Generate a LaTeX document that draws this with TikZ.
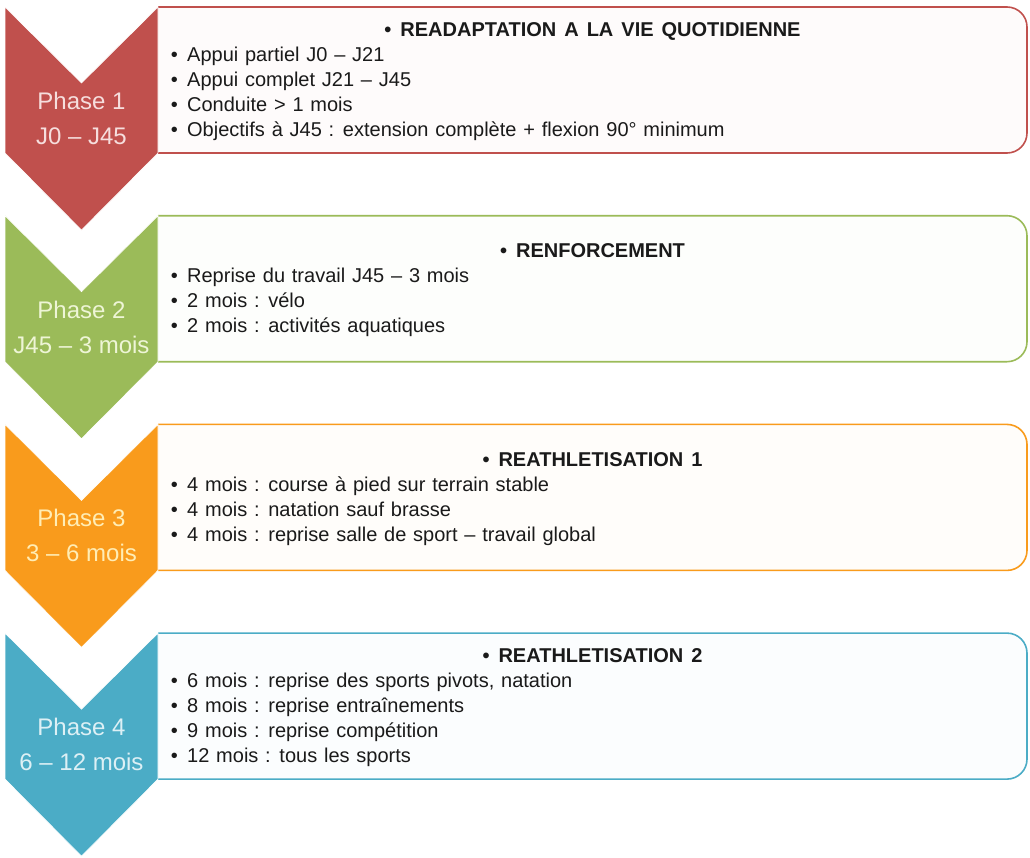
\documentclass[tikz,border=0pt]{standalone}
\usepackage{fontspec}
\setmainfont{Liberation Sans}

\definecolor{redA}{HTML}{C0504D}
\definecolor{greenA}{HTML}{9BBB59}
\definecolor{orangeA}{HTML}{F99B1C}
\definecolor{blueA}{HTML}{4BACC6}
\definecolor{redT}{HTML}{F6DEDD}
\definecolor{greenT}{HTML}{EEF5D6}
\definecolor{orangeT}{HTML}{FFEDB5}
\definecolor{blueT}{HTML}{DDF0F5}
\definecolor{ink}{HTML}{1A1A1A}

\newcommand{\bul}{\makebox[16.3pt][l]{\textbullet}}
\newcommand{\headfont}{\fontsize{20}{25}\selectfont\bfseries\spaceskip=8pt\relax}
\newcommand{\itemfont}{\fontsize{20}{25}\selectfont\spaceskip=6.8pt\relax}

\begin{document}
\begin{tikzpicture}[x=1pt, y=-1pt,
	card/.style = {line width=1.6pt, rounded corners=20pt},
	chev/.style = {draw=white, line width=0.6pt},
	phase/.style = {align=center, inner sep=0pt, font=\fontsize{24}{35}\selectfont},
	head/.style = {anchor=base, inner sep=0pt, text=ink, font=\headfont},
	item/.style = {anchor=base west, inner sep=0pt, text=ink, font=\itemfont}]
	\useasboundingbox (0,0) rectangle (1030,857);

	% boxes
	\draw[card, draw=redA, fill=redA!2] (158,7) -- (1027,7) -- (1027,153) -- (158,153);
	\draw[card, draw=greenA, fill=greenA!2] (158,215.7) -- (1027,215.7) -- (1027,361.7) -- (158,361.7);
	\draw[card, draw=orangeA, fill=orangeA!2] (158,424.4) -- (1027,424.4) -- (1027,570.4) -- (158,570.4);
	\draw[card, draw=blueA, fill=blueA!2] (158,633.1) -- (1027,633.1) -- (1027,779.1) -- (158,779.1);

	% chevrons
	\fill[chev, fill=redA] (5,7) -- (81.5,83) -- (158,7) -- (158,153) -- (81.5,230) -- (5,153) -- cycle;
	\fill[chev, fill=greenA] (5,215.7) -- (81.5,291.7) -- (158,215.7) -- (158,361.7) -- (81.5,438.7) -- (5,361.7) -- cycle;
	\fill[chev, fill=orangeA] (5,424.4) -- (81.5,500.4) -- (158,424.4) -- (158,570.4) -- (81.5,647.4) -- (5,570.4) -- cycle;
	\fill[chev, fill=blueA] (5,633.1) -- (81.5,709.1) -- (158,633.1) -- (158,779.1) -- (81.5,856.1) -- (5,779.1) -- cycle;

	\node[phase, text=redT] (p1) at (81.5,118.5) {Phase 1\\J0 -- J45};
	\node[phase, text=greenT] (p2) at (81.5,327.2) {Phase 2\\J45 -- 3 mois};
	\node[phase, text=orangeT] (p3) at (81.5,535.9) {Phase 3\\3 -- 6 mois};
	\node[phase, text=blueT] (p4) at (81.5,744.6) {Phase 4\\6 -- 12 mois};

	% phase 1
	\node[head] (h1) at (592.5,36.5) {\textbullet\hspace{9pt}READAPTATION A LA VIE QUOTIDIENNE};
	\node[item] (a1) at (170.7,61.5) {\bul Appui partiel J0 -- J21};
	\node[item] (a2) at (170.7,86.5) {\bul Appui complet J21 -- J45};
	\node[item] (a3) at (170.7,111.5) {\bul Conduite > 1 mois};
	\node[item] (a4) at (170.7,136.5) {\bul Objectifs à J45 : extension complète + flexion 90° minimum};

	% phase 2
	\node[head] (h2) at (592.5,257.7) {\textbullet\hspace{9pt}RENFORCEMENT};
	\node[item] (b1) at (170.7,282.7) {\bul Reprise du travail J45 -- 3 mois};
	\node[item] (b2) at (170.7,307.7) {\bul 2 mois : vélo};
	\node[item] (b3) at (170.7,332.7) {\bul 2 mois : activités aquatiques};

	% phase 3
	\node[head] (h3) at (592.5,466.4) {\textbullet\hspace{9pt}REATHLETISATION 1};
	\node[item] (c1) at (170.7,491.4) {\bul 4 mois : course à pied sur terrain stable};
	\node[item] (c2) at (170.7,516.4) {\bul 4 mois : natation sauf brasse};
	\node[item] (c3) at (170.7,541.4) {\bul 4 mois : reprise salle de sport -- travail global};

	% phase 4
	\node[head] (h4) at (592.5,662.6) {\textbullet\hspace{9pt}REATHLETISATION 2};
	\node[item] (d1) at (170.7,687.6) {\bul 6 mois : reprise des sports pivots, natation};
	\node[item] (d2) at (170.7,712.6) {\bul 8 mois : reprise entraînements};
	\node[item] (d3) at (170.7,737.6) {\bul 9 mois : reprise compétition};
	\node[item] (d4) at (170.7,762.6) {\bul 12 mois : tous les sports};
\end{tikzpicture}
\end{document}
